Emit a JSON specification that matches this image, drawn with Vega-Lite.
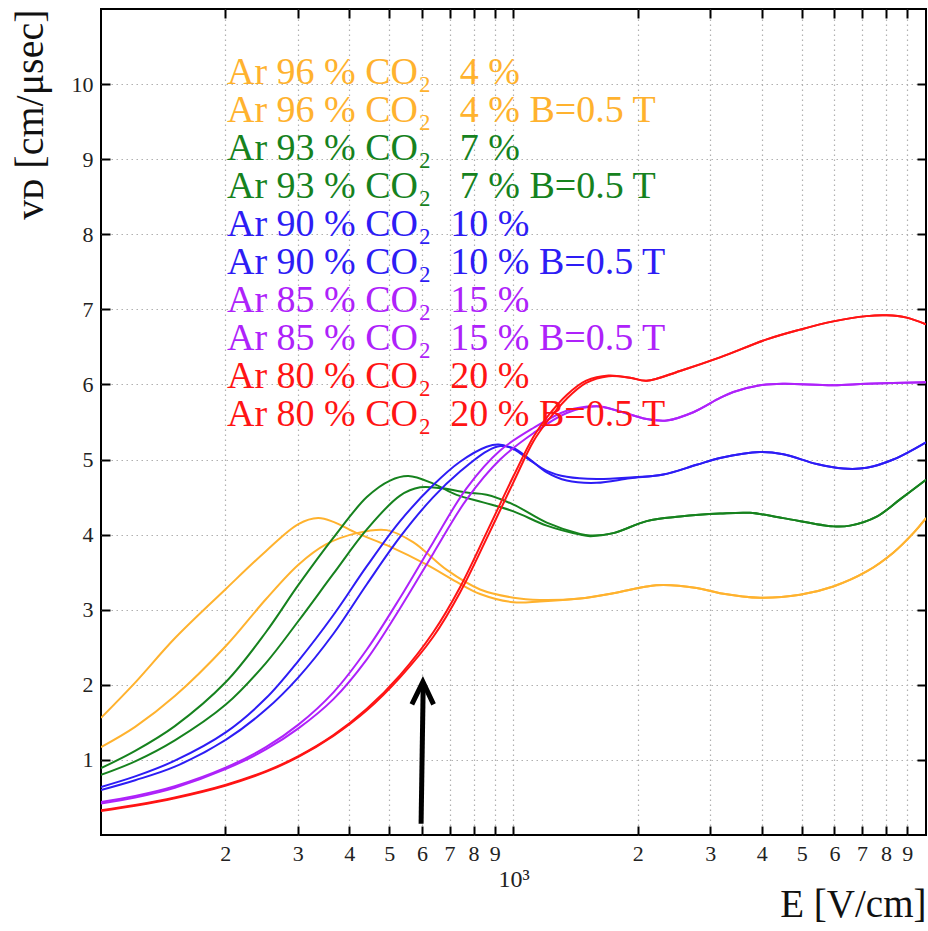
{
  "$schema": "https://vega.github.io/schema/vega-lite/v6.json",
  "width": 825,
  "height": 826,
  "autosize": {"type": "none"},
  "padding": {"left": 101, "top": 9, "right": 2, "bottom": 96},
  "background": "white",
  "datasets": {
    "arrow": [
      {"part": "shaft", "E": 597, "v": 0.15},
      {"part": "shaft", "E": 604, "v": 1.98},
      {"part": "head", "E": 567, "v": 1.74},
      {"part": "head", "E": 603, "v": 2.04},
      {"part": "head", "E": 640, "v": 1.74}
    ],
    "curves": [
      {"s": "Ar 96 % CO₂   4 %", "E": 100, "v": 1.56},
      {"s": "Ar 96 % CO₂   4 %", "E": 121, "v": 2.03},
      {"s": "Ar 96 % CO₂   4 %", "E": 151, "v": 2.62},
      {"s": "Ar 96 % CO₂   4 %", "E": 201, "v": 3.28},
      {"s": "Ar 96 % CO₂   4 %", "E": 251, "v": 3.78},
      {"s": "Ar 96 % CO₂   4 %", "E": 301, "v": 4.14},
      {"s": "Ar 96 % CO₂   4 %", "E": 336, "v": 4.22},
      {"s": "Ar 96 % CO₂   4 %", "E": 366, "v": 4.17},
      {"s": "Ar 96 % CO₂   4 %", "E": 417, "v": 4.02},
      {"s": "Ar 96 % CO₂   4 %", "E": 502, "v": 3.84},
      {"s": "Ar 96 % CO₂   4 %", "E": 616, "v": 3.6},
      {"s": "Ar 96 % CO₂   4 %", "E": 728, "v": 3.37},
      {"s": "Ar 96 % CO₂   4 %", "E": 830, "v": 3.21},
      {"s": "Ar 96 % CO₂   4 %", "E": 1000, "v": 3.1},
      {"s": "Ar 96 % CO₂   4 %", "E": 1159, "v": 3.11},
      {"s": "Ar 96 % CO₂   4 %", "E": 1450, "v": 3.15},
      {"s": "Ar 96 % CO₂   4 %", "E": 1746, "v": 3.22},
      {"s": "Ar 96 % CO₂   4 %", "E": 2103, "v": 3.31},
      {"s": "Ar 96 % CO₂   4 %", "E": 2308, "v": 3.33},
      {"s": "Ar 96 % CO₂   4 %", "E": 2780, "v": 3.29},
      {"s": "Ar 96 % CO₂   4 %", "E": 3167, "v": 3.22},
      {"s": "Ar 96 % CO₂   4 %", "E": 3959, "v": 3.16},
      {"s": "Ar 96 % CO₂   4 %", "E": 4950, "v": 3.2},
      {"s": "Ar 96 % CO₂   4 %", "E": 5960, "v": 3.31},
      {"s": "Ar 96 % CO₂   4 %", "E": 7180, "v": 3.51},
      {"s": "Ar 96 % CO₂   4 %", "E": 8330, "v": 3.76},
      {"s": "Ar 96 % CO₂   4 %", "E": 9316, "v": 4.02},
      {"s": "Ar 96 % CO₂   4 %", "E": 10000, "v": 4.22},

      {"s": "Ar 96 % CO₂   4 % B=0.5 T", "E": 100, "v": 1.17},
      {"s": "Ar 96 % CO₂   4 % B=0.5 T", "E": 121, "v": 1.44},
      {"s": "Ar 96 % CO₂   4 % B=0.5 T", "E": 151, "v": 1.85},
      {"s": "Ar 96 % CO₂   4 % B=0.5 T", "E": 201, "v": 2.52},
      {"s": "Ar 96 % CO₂   4 % B=0.5 T", "E": 251, "v": 3.14},
      {"s": "Ar 96 % CO₂   4 % B=0.5 T", "E": 301, "v": 3.6},
      {"s": "Ar 96 % CO₂   4 % B=0.5 T", "E": 351, "v": 3.87},
      {"s": "Ar 96 % CO₂   4 % B=0.5 T", "E": 417, "v": 4.02},
      {"s": "Ar 96 % CO₂   4 % B=0.5 T", "E": 493, "v": 4.06},
      {"s": "Ar 96 % CO₂   4 % B=0.5 T", "E": 571, "v": 3.9},
      {"s": "Ar 96 % CO₂   4 % B=0.5 T", "E": 689, "v": 3.53},
      {"s": "Ar 96 % CO₂   4 % B=0.5 T", "E": 830, "v": 3.27},
      {"s": "Ar 96 % CO₂   4 % B=0.5 T", "E": 1000, "v": 3.16},
      {"s": "Ar 96 % CO₂   4 % B=0.5 T", "E": 1159, "v": 3.13},
      {"s": "Ar 96 % CO₂   4 % B=0.5 T", "E": 1450, "v": 3.15},
      {"s": "Ar 96 % CO₂   4 % B=0.5 T", "E": 1746, "v": 3.22},
      {"s": "Ar 96 % CO₂   4 % B=0.5 T", "E": 2103, "v": 3.31},
      {"s": "Ar 96 % CO₂   4 % B=0.5 T", "E": 2308, "v": 3.33},
      {"s": "Ar 96 % CO₂   4 % B=0.5 T", "E": 2780, "v": 3.29},
      {"s": "Ar 96 % CO₂   4 % B=0.5 T", "E": 3167, "v": 3.22},
      {"s": "Ar 96 % CO₂   4 % B=0.5 T", "E": 3959, "v": 3.16},
      {"s": "Ar 96 % CO₂   4 % B=0.5 T", "E": 4950, "v": 3.2},
      {"s": "Ar 96 % CO₂   4 % B=0.5 T", "E": 5960, "v": 3.31},
      {"s": "Ar 96 % CO₂   4 % B=0.5 T", "E": 7180, "v": 3.51},
      {"s": "Ar 96 % CO₂   4 % B=0.5 T", "E": 8330, "v": 3.76},
      {"s": "Ar 96 % CO₂   4 % B=0.5 T", "E": 9316, "v": 4.02},
      {"s": "Ar 96 % CO₂   4 % B=0.5 T", "E": 10000, "v": 4.22},

      {"s": "Ar 93 % CO₂   7 %", "E": 100, "v": 0.89},
      {"s": "Ar 93 % CO₂   7 %", "E": 121, "v": 1.12},
      {"s": "Ar 93 % CO₂   7 %", "E": 151, "v": 1.45},
      {"s": "Ar 93 % CO₂   7 %", "E": 201, "v": 2.04},
      {"s": "Ar 93 % CO₂   7 %", "E": 251, "v": 2.7},
      {"s": "Ar 93 % CO₂   7 %", "E": 301, "v": 3.33},
      {"s": "Ar 93 % CO₂   7 %", "E": 366, "v": 3.96},
      {"s": "Ar 93 % CO₂   7 %", "E": 441, "v": 4.5},
      {"s": "Ar 93 % CO₂   7 %", "E": 502, "v": 4.72},
      {"s": "Ar 93 % CO₂   7 %", "E": 556, "v": 4.78},
      {"s": "Ar 93 % CO₂   7 %", "E": 639, "v": 4.68},
      {"s": "Ar 93 % CO₂   7 %", "E": 728, "v": 4.53},
      {"s": "Ar 93 % CO₂   7 %", "E": 844, "v": 4.43},
      {"s": "Ar 93 % CO₂   7 %", "E": 1000, "v": 4.31},
      {"s": "Ar 93 % CO₂   7 %", "E": 1204, "v": 4.12},
      {"s": "Ar 93 % CO₂   7 %", "E": 1450, "v": 4.0},
      {"s": "Ar 93 % CO₂   7 %", "E": 1533, "v": 3.98},
      {"s": "Ar 93 % CO₂   7 %", "E": 1746, "v": 4.02},
      {"s": "Ar 93 % CO₂   7 %", "E": 2103, "v": 4.18},
      {"s": "Ar 93 % CO₂   7 %", "E": 2533, "v": 4.24},
      {"s": "Ar 93 % CO₂   7 %", "E": 3167, "v": 4.28},
      {"s": "Ar 93 % CO₂   7 %", "E": 3744, "v": 4.29},
      {"s": "Ar 93 % CO₂   7 %", "E": 4509, "v": 4.22},
      {"s": "Ar 93 % CO₂   7 %", "E": 5960, "v": 4.11},
      {"s": "Ar 93 % CO₂   7 %", "E": 6544, "v": 4.12},
      {"s": "Ar 93 % CO₂   7 %", "E": 7595, "v": 4.24},
      {"s": "Ar 93 % CO₂   7 %", "E": 8650, "v": 4.47},
      {"s": "Ar 93 % CO₂   7 %", "E": 10000, "v": 4.73},

      {"s": "Ar 93 % CO₂   7 % B=0.5 T", "E": 100, "v": 0.8},
      {"s": "Ar 93 % CO₂   7 % B=0.5 T", "E": 121, "v": 0.98},
      {"s": "Ar 93 % CO₂   7 % B=0.5 T", "E": 151, "v": 1.26},
      {"s": "Ar 93 % CO₂   7 % B=0.5 T", "E": 201, "v": 1.74},
      {"s": "Ar 93 % CO₂   7 % B=0.5 T", "E": 251, "v": 2.29},
      {"s": "Ar 93 % CO₂   7 % B=0.5 T", "E": 301, "v": 2.85},
      {"s": "Ar 93 % CO₂   7 % B=0.5 T", "E": 366, "v": 3.48},
      {"s": "Ar 93 % CO₂   7 % B=0.5 T", "E": 441, "v": 4.07},
      {"s": "Ar 93 % CO₂   7 % B=0.5 T", "E": 531, "v": 4.52},
      {"s": "Ar 93 % CO₂   7 % B=0.5 T", "E": 594, "v": 4.63},
      {"s": "Ar 93 % CO₂   7 % B=0.5 T", "E": 664, "v": 4.62},
      {"s": "Ar 93 % CO₂   7 % B=0.5 T", "E": 770, "v": 4.56},
      {"s": "Ar 93 % CO₂   7 % B=0.5 T", "E": 861, "v": 4.53},
      {"s": "Ar 93 % CO₂   7 % B=0.5 T", "E": 1000, "v": 4.4},
      {"s": "Ar 93 % CO₂   7 % B=0.5 T", "E": 1204, "v": 4.16},
      {"s": "Ar 93 % CO₂   7 % B=0.5 T", "E": 1450, "v": 4.01},
      {"s": "Ar 93 % CO₂   7 % B=0.5 T", "E": 1533, "v": 3.99},
      {"s": "Ar 93 % CO₂   7 % B=0.5 T", "E": 1746, "v": 4.02},
      {"s": "Ar 93 % CO₂   7 % B=0.5 T", "E": 2103, "v": 4.18},
      {"s": "Ar 93 % CO₂   7 % B=0.5 T", "E": 2533, "v": 4.24},
      {"s": "Ar 93 % CO₂   7 % B=0.5 T", "E": 3167, "v": 4.28},
      {"s": "Ar 93 % CO₂   7 % B=0.5 T", "E": 3744, "v": 4.29},
      {"s": "Ar 93 % CO₂   7 % B=0.5 T", "E": 4509, "v": 4.22},
      {"s": "Ar 93 % CO₂   7 % B=0.5 T", "E": 5960, "v": 4.11},
      {"s": "Ar 93 % CO₂   7 % B=0.5 T", "E": 6544, "v": 4.12},
      {"s": "Ar 93 % CO₂   7 % B=0.5 T", "E": 7595, "v": 4.24},
      {"s": "Ar 93 % CO₂   7 % B=0.5 T", "E": 8650, "v": 4.47},
      {"s": "Ar 93 % CO₂   7 % B=0.5 T", "E": 10000, "v": 4.73},

      {"s": "Ar 90 % CO₂  10 %", "E": 100, "v": 0.64},
      {"s": "Ar 90 % CO₂  10 %", "E": 121, "v": 0.78},
      {"s": "Ar 90 % CO₂  10 %", "E": 151, "v": 0.99},
      {"s": "Ar 90 % CO₂  10 %", "E": 201, "v": 1.37},
      {"s": "Ar 90 % CO₂  10 %", "E": 251, "v": 1.82},
      {"s": "Ar 90 % CO₂  10 %", "E": 301, "v": 2.32},
      {"s": "Ar 90 % CO₂  10 %", "E": 366, "v": 2.93},
      {"s": "Ar 90 % CO₂  10 %", "E": 441, "v": 3.58},
      {"s": "Ar 90 % CO₂  10 %", "E": 531, "v": 4.18},
      {"s": "Ar 90 % CO₂  10 %", "E": 639, "v": 4.66},
      {"s": "Ar 90 % CO₂  10 %", "E": 742, "v": 4.97},
      {"s": "Ar 90 % CO₂  10 %", "E": 861, "v": 5.17},
      {"s": "Ar 90 % CO₂  10 %", "E": 920, "v": 5.2},
      {"s": "Ar 90 % CO₂  10 %", "E": 1000, "v": 5.14},
      {"s": "Ar 90 % CO₂  10 %", "E": 1097, "v": 4.99},
      {"s": "Ar 90 % CO₂  10 %", "E": 1204, "v": 4.85},
      {"s": "Ar 90 % CO₂  10 %", "E": 1346, "v": 4.77},
      {"s": "Ar 90 % CO₂  10 %", "E": 1591, "v": 4.74},
      {"s": "Ar 90 % CO₂  10 %", "E": 1916, "v": 4.76},
      {"s": "Ar 90 % CO₂  10 %", "E": 2308, "v": 4.8},
      {"s": "Ar 90 % CO₂  10 %", "E": 2780, "v": 4.93},
      {"s": "Ar 90 % CO₂  10 %", "E": 3167, "v": 5.02},
      {"s": "Ar 90 % CO₂  10 %", "E": 3959, "v": 5.1},
      {"s": "Ar 90 % CO₂  10 %", "E": 4509, "v": 5.07},
      {"s": "Ar 90 % CO₂  10 %", "E": 5433, "v": 4.94},
      {"s": "Ar 90 % CO₂  10 %", "E": 6303, "v": 4.88},
      {"s": "Ar 90 % CO₂  10 %", "E": 7180, "v": 4.89},
      {"s": "Ar 90 % CO₂  10 %", "E": 8330, "v": 5.0},
      {"s": "Ar 90 % CO₂  10 %", "E": 10000, "v": 5.23},

      {"s": "Ar 90 % CO₂  10 % B=0.5 T", "E": 100, "v": 0.6},
      {"s": "Ar 90 % CO₂  10 % B=0.5 T", "E": 121, "v": 0.73},
      {"s": "Ar 90 % CO₂  10 % B=0.5 T", "E": 151, "v": 0.91},
      {"s": "Ar 90 % CO₂  10 % B=0.5 T", "E": 201, "v": 1.27},
      {"s": "Ar 90 % CO₂  10 % B=0.5 T", "E": 251, "v": 1.67},
      {"s": "Ar 90 % CO₂  10 % B=0.5 T", "E": 301, "v": 2.1},
      {"s": "Ar 90 % CO₂  10 % B=0.5 T", "E": 366, "v": 2.68},
      {"s": "Ar 90 % CO₂  10 % B=0.5 T", "E": 441, "v": 3.34},
      {"s": "Ar 90 % CO₂  10 % B=0.5 T", "E": 531, "v": 3.97},
      {"s": "Ar 90 % CO₂  10 % B=0.5 T", "E": 639, "v": 4.5},
      {"s": "Ar 90 % CO₂  10 % B=0.5 T", "E": 742, "v": 4.84},
      {"s": "Ar 90 % CO₂  10 % B=0.5 T", "E": 861, "v": 5.11},
      {"s": "Ar 90 % CO₂  10 % B=0.5 T", "E": 930, "v": 5.18},
      {"s": "Ar 90 % CO₂  10 % B=0.5 T", "E": 1000, "v": 5.15},
      {"s": "Ar 90 % CO₂  10 % B=0.5 T", "E": 1097, "v": 5.0},
      {"s": "Ar 90 % CO₂  10 % B=0.5 T", "E": 1204, "v": 4.83},
      {"s": "Ar 90 % CO₂  10 % B=0.5 T", "E": 1346, "v": 4.72},
      {"s": "Ar 90 % CO₂  10 % B=0.5 T", "E": 1591, "v": 4.69},
      {"s": "Ar 90 % CO₂  10 % B=0.5 T", "E": 1916, "v": 4.75},
      {"s": "Ar 90 % CO₂  10 % B=0.5 T", "E": 2308, "v": 4.8},
      {"s": "Ar 90 % CO₂  10 % B=0.5 T", "E": 2780, "v": 4.93},
      {"s": "Ar 90 % CO₂  10 % B=0.5 T", "E": 3167, "v": 5.02},
      {"s": "Ar 90 % CO₂  10 % B=0.5 T", "E": 3959, "v": 5.1},
      {"s": "Ar 90 % CO₂  10 % B=0.5 T", "E": 4509, "v": 5.07},
      {"s": "Ar 90 % CO₂  10 % B=0.5 T", "E": 5433, "v": 4.94},
      {"s": "Ar 90 % CO₂  10 % B=0.5 T", "E": 6303, "v": 4.88},
      {"s": "Ar 90 % CO₂  10 % B=0.5 T", "E": 7180, "v": 4.89},
      {"s": "Ar 90 % CO₂  10 % B=0.5 T", "E": 8330, "v": 5.0},
      {"s": "Ar 90 % CO₂  10 % B=0.5 T", "E": 10000, "v": 5.23},

      {"s": "Ar 85 % CO₂  15 %", "E": 100, "v": 0.44},
      {"s": "Ar 85 % CO₂  15 %", "E": 121, "v": 0.52},
      {"s": "Ar 85 % CO₂  15 %", "E": 151, "v": 0.65},
      {"s": "Ar 85 % CO₂  15 %", "E": 201, "v": 0.9},
      {"s": "Ar 85 % CO₂  15 %", "E": 251, "v": 1.17},
      {"s": "Ar 85 % CO₂  15 %", "E": 301, "v": 1.47},
      {"s": "Ar 85 % CO₂  15 %", "E": 366, "v": 1.9},
      {"s": "Ar 85 % CO₂  15 %", "E": 441, "v": 2.47},
      {"s": "Ar 85 % CO₂  15 %", "E": 531, "v": 3.16},
      {"s": "Ar 85 % CO₂  15 %", "E": 639, "v": 3.9},
      {"s": "Ar 85 % CO₂  15 %", "E": 770, "v": 4.62},
      {"s": "Ar 85 % CO₂  15 %", "E": 928, "v": 5.12},
      {"s": "Ar 85 % CO₂  15 %", "E": 1117, "v": 5.42},
      {"s": "Ar 85 % CO₂  15 %", "E": 1346, "v": 5.65},
      {"s": "Ar 85 % CO₂  15 %", "E": 1591, "v": 5.71},
      {"s": "Ar 85 % CO₂  15 %", "E": 1813, "v": 5.64},
      {"s": "Ar 85 % CO₂  15 %", "E": 2103, "v": 5.54},
      {"s": "Ar 85 % CO₂  15 %", "E": 2352, "v": 5.52},
      {"s": "Ar 85 % CO₂  15 %", "E": 2729, "v": 5.63},
      {"s": "Ar 85 % CO₂  15 %", "E": 3167, "v": 5.82},
      {"s": "Ar 85 % CO₂  15 %", "E": 3412, "v": 5.9},
      {"s": "Ar 85 % CO₂  15 %", "E": 3959, "v": 5.99},
      {"s": "Ar 85 % CO₂  15 %", "E": 4509, "v": 6.01},
      {"s": "Ar 85 % CO₂  15 %", "E": 5960, "v": 5.99},
      {"s": "Ar 85 % CO₂  15 %", "E": 7180, "v": 6.01},
      {"s": "Ar 85 % CO₂  15 %", "E": 10000, "v": 6.03},

      {"s": "Ar 85 % CO₂  15 % B=0.5 T", "E": 100, "v": 0.42},
      {"s": "Ar 85 % CO₂  15 % B=0.5 T", "E": 121, "v": 0.5},
      {"s": "Ar 85 % CO₂  15 % B=0.5 T", "E": 151, "v": 0.63},
      {"s": "Ar 85 % CO₂  15 % B=0.5 T", "E": 201, "v": 0.88},
      {"s": "Ar 85 % CO₂  15 % B=0.5 T", "E": 251, "v": 1.14},
      {"s": "Ar 85 % CO₂  15 % B=0.5 T", "E": 301, "v": 1.42},
      {"s": "Ar 85 % CO₂  15 % B=0.5 T", "E": 366, "v": 1.81},
      {"s": "Ar 85 % CO₂  15 % B=0.5 T", "E": 441, "v": 2.34},
      {"s": "Ar 85 % CO₂  15 % B=0.5 T", "E": 531, "v": 3.02},
      {"s": "Ar 85 % CO₂  15 % B=0.5 T", "E": 639, "v": 3.75},
      {"s": "Ar 85 % CO₂  15 % B=0.5 T", "E": 770, "v": 4.47},
      {"s": "Ar 85 % CO₂  15 % B=0.5 T", "E": 928, "v": 5.0},
      {"s": "Ar 85 % CO₂  15 % B=0.5 T", "E": 1117, "v": 5.35},
      {"s": "Ar 85 % CO₂  15 % B=0.5 T", "E": 1346, "v": 5.62},
      {"s": "Ar 85 % CO₂  15 % B=0.5 T", "E": 1591, "v": 5.71},
      {"s": "Ar 85 % CO₂  15 % B=0.5 T", "E": 1813, "v": 5.64},
      {"s": "Ar 85 % CO₂  15 % B=0.5 T", "E": 2103, "v": 5.54},
      {"s": "Ar 85 % CO₂  15 % B=0.5 T", "E": 2352, "v": 5.52},
      {"s": "Ar 85 % CO₂  15 % B=0.5 T", "E": 2729, "v": 5.63},
      {"s": "Ar 85 % CO₂  15 % B=0.5 T", "E": 3167, "v": 5.82},
      {"s": "Ar 85 % CO₂  15 % B=0.5 T", "E": 3412, "v": 5.9},
      {"s": "Ar 85 % CO₂  15 % B=0.5 T", "E": 3959, "v": 5.99},
      {"s": "Ar 85 % CO₂  15 % B=0.5 T", "E": 4509, "v": 6.01},
      {"s": "Ar 85 % CO₂  15 % B=0.5 T", "E": 5960, "v": 5.99},
      {"s": "Ar 85 % CO₂  15 % B=0.5 T", "E": 7180, "v": 6.01},
      {"s": "Ar 85 % CO₂  15 % B=0.5 T", "E": 10000, "v": 6.03},

      {"s": "Ar 80 % CO₂  20 %", "E": 100, "v": 0.33},
      {"s": "Ar 80 % CO₂  20 %", "E": 121, "v": 0.4},
      {"s": "Ar 80 % CO₂  20 %", "E": 151, "v": 0.5},
      {"s": "Ar 80 % CO₂  20 %", "E": 201, "v": 0.67},
      {"s": "Ar 80 % CO₂  20 %", "E": 251, "v": 0.85},
      {"s": "Ar 80 % CO₂  20 %", "E": 301, "v": 1.05},
      {"s": "Ar 80 % CO₂  20 %", "E": 366, "v": 1.33},
      {"s": "Ar 80 % CO₂  20 %", "E": 441, "v": 1.68},
      {"s": "Ar 80 % CO₂  20 %", "E": 531, "v": 2.13},
      {"s": "Ar 80 % CO₂  20 %", "E": 639, "v": 2.7},
      {"s": "Ar 80 % CO₂  20 %", "E": 742, "v": 3.3},
      {"s": "Ar 80 % CO₂  20 %", "E": 861, "v": 4.03},
      {"s": "Ar 80 % CO₂  20 %", "E": 1000, "v": 4.78},
      {"s": "Ar 80 % CO₂  20 %", "E": 1117, "v": 5.3},
      {"s": "Ar 80 % CO₂  20 %", "E": 1204, "v": 5.56},
      {"s": "Ar 80 % CO₂  20 %", "E": 1346, "v": 5.86},
      {"s": "Ar 80 % CO₂  20 %", "E": 1500, "v": 6.05},
      {"s": "Ar 80 % CO₂  20 %", "E": 1700, "v": 6.12},
      {"s": "Ar 80 % CO₂  20 %", "E": 1916, "v": 6.09},
      {"s": "Ar 80 % CO₂  20 %", "E": 2103, "v": 6.05},
      {"s": "Ar 80 % CO₂  20 %", "E": 2533, "v": 6.18},
      {"s": "Ar 80 % CO₂  20 %", "E": 3167, "v": 6.36},
      {"s": "Ar 80 % CO₂  20 %", "E": 4110, "v": 6.6},
      {"s": "Ar 80 % CO₂  20 %", "E": 4950, "v": 6.73},
      {"s": "Ar 80 % CO₂  20 %", "E": 5960, "v": 6.84},
      {"s": "Ar 80 % CO₂  20 %", "E": 7180, "v": 6.91},
      {"s": "Ar 80 % CO₂  20 %", "E": 8030, "v": 6.92},
      {"s": "Ar 80 % CO₂  20 %", "E": 8980, "v": 6.89},
      {"s": "Ar 80 % CO₂  20 %", "E": 10000, "v": 6.8},

      {"s": "Ar 80 % CO₂  20 % B=0.5 T", "E": 100, "v": 0.32},
      {"s": "Ar 80 % CO₂  20 % B=0.5 T", "E": 121, "v": 0.39},
      {"s": "Ar 80 % CO₂  20 % B=0.5 T", "E": 151, "v": 0.49},
      {"s": "Ar 80 % CO₂  20 % B=0.5 T", "E": 201, "v": 0.66},
      {"s": "Ar 80 % CO₂  20 % B=0.5 T", "E": 251, "v": 0.84},
      {"s": "Ar 80 % CO₂  20 % B=0.5 T", "E": 301, "v": 1.04},
      {"s": "Ar 80 % CO₂  20 % B=0.5 T", "E": 366, "v": 1.32},
      {"s": "Ar 80 % CO₂  20 % B=0.5 T", "E": 441, "v": 1.66},
      {"s": "Ar 80 % CO₂  20 % B=0.5 T", "E": 531, "v": 2.1},
      {"s": "Ar 80 % CO₂  20 % B=0.5 T", "E": 639, "v": 2.64},
      {"s": "Ar 80 % CO₂  20 % B=0.5 T", "E": 742, "v": 3.23},
      {"s": "Ar 80 % CO₂  20 % B=0.5 T", "E": 861, "v": 3.95},
      {"s": "Ar 80 % CO₂  20 % B=0.5 T", "E": 1000, "v": 4.7},
      {"s": "Ar 80 % CO₂  20 % B=0.5 T", "E": 1117, "v": 5.24},
      {"s": "Ar 80 % CO₂  20 % B=0.5 T", "E": 1204, "v": 5.5},
      {"s": "Ar 80 % CO₂  20 % B=0.5 T", "E": 1346, "v": 5.81},
      {"s": "Ar 80 % CO₂  20 % B=0.5 T", "E": 1500, "v": 6.02},
      {"s": "Ar 80 % CO₂  20 % B=0.5 T", "E": 1700, "v": 6.11},
      {"s": "Ar 80 % CO₂  20 % B=0.5 T", "E": 1916, "v": 6.09},
      {"s": "Ar 80 % CO₂  20 % B=0.5 T", "E": 2103, "v": 6.05},
      {"s": "Ar 80 % CO₂  20 % B=0.5 T", "E": 2533, "v": 6.18},
      {"s": "Ar 80 % CO₂  20 % B=0.5 T", "E": 3167, "v": 6.36},
      {"s": "Ar 80 % CO₂  20 % B=0.5 T", "E": 4110, "v": 6.6},
      {"s": "Ar 80 % CO₂  20 % B=0.5 T", "E": 4950, "v": 6.73},
      {"s": "Ar 80 % CO₂  20 % B=0.5 T", "E": 5960, "v": 6.84},
      {"s": "Ar 80 % CO₂  20 % B=0.5 T", "E": 7180, "v": 6.91},
      {"s": "Ar 80 % CO₂  20 % B=0.5 T", "E": 8030, "v": 6.92},
      {"s": "Ar 80 % CO₂  20 % B=0.5 T", "E": 8980, "v": 6.89},
      {"s": "Ar 80 % CO₂  20 % B=0.5 T", "E": 10000, "v": 6.8}
    ]
  },
  "layer": [
    {
      "data": {"name": "curves"},
      "mark": {"type": "line", "interpolate": "catmull-rom", "clip": true},
      "encoding": {
        "x": {
          "field": "E", "type": "quantitative",
          "scale": {"type": "log", "domain": [100, 10000], "nice": false},
          "axis": {
            "orient": "bottom",
            "values": [200, 300, 400, 500, 600, 700, 800, 900, 1000, 2000, 3000, 4000, 5000, 6000, 7000, 8000, 9000],
            "labelExpr": "datum.value == 1000 ? ['', '10³'] : substring(toString(datum.value), 0, 1)",
            "labelFontSize": {"condition": {"test": "datum.value == 1000", "value": 24}, "value": 22},
            "labelOverlap": false,
            "labelFlush": false,
            "labelLineHeight": 24,
            "grid": true,
            "title": "E [V/cm]",
            "titleFontSize": 39,
            "titleAnchor": "end",
            "titlePadding": -6
          }
        },
        "y": {
          "field": "v", "type": "quantitative",
          "scale": {"domain": [0, 11], "nice": false},
          "axis": {
            "orient": "left",
            "values": [1, 2, 3, 4, 5, 6, 7, 8, 9, 10],
            "labelOverlap": false,
            "grid": true,
            "title": "vᴅ [cm/μsec]",
            "titleFontSize": 40,
            "titleAnchor": "end",
            "titlePadding": 21
          }
        },
        "color": {
          "field": "s", "type": "nominal",
          "scale": {
            "domain": ["Ar 96 % CO₂   4 %", "Ar 96 % CO₂   4 % B=0.5 T", "Ar 93 % CO₂   7 %", "Ar 93 % CO₂   7 % B=0.5 T", "Ar 90 % CO₂  10 %", "Ar 90 % CO₂  10 % B=0.5 T", "Ar 85 % CO₂  15 %", "Ar 85 % CO₂  15 % B=0.5 T", "Ar 80 % CO₂  20 %", "Ar 80 % CO₂  20 % B=0.5 T"],
            "range": ["#FFB22E", "#FFB22E", "#16821E", "#16821E", "#2D1CF5", "#2D1CF5", "#AE22FA", "#AE22FA", "#FF1414", "#FF1414"]
          },
          "legend": {
            "orient": "none",
            "legendX": 88,
            "legendY": 45,
            "title": null,
            "labelFont": "Liberation Serif",
            "labelFontSize": 38,
            "labelLimit": 2000,
            "labelExpr": "replace(datum.label, '₂  ', '₂\u00a0\u00a0')",
            "symbolSize": 0,
            "symbolOpacity": 0,
            "symbolStrokeWidth": 0,
            "labelOffset": 0,
            "rowPadding": -0.5,
            "padding": 0,
            "encode": {"labels": {"update": {"fill": {"scale": "color", "field": "value"}}}}
          }
        },
        "strokeWidth": {
          "field": "s", "type": "nominal",
          "scale": {
            "domain": ["Ar 96 % CO₂   4 %", "Ar 96 % CO₂   4 % B=0.5 T", "Ar 93 % CO₂   7 %", "Ar 93 % CO₂   7 % B=0.5 T", "Ar 90 % CO₂  10 %", "Ar 90 % CO₂  10 % B=0.5 T", "Ar 85 % CO₂  15 %", "Ar 85 % CO₂  15 % B=0.5 T", "Ar 80 % CO₂  20 %", "Ar 80 % CO₂  20 % B=0.5 T"],
            "range": [2, 2, 2.4, 2.4, 2.6, 2.6, 2.8, 2.8, 2.8, 2.8]
          },
          "legend": null
        }
      }
    },
    {
      "data": {"name": "arrow"},
      "mark": {"type": "line", "color": "#000", "strokeWidth": 5, "strokeCap": "butt", "strokeJoin": "miter"},
      "encoding": {
        "x": {
          "field": "E", "type": "quantitative",
          "scale": {"type": "log", "domain": [100, 10000], "nice": false},
          "axis": {
            "orient": "top",
            "values": [200, 300, 400, 500, 600, 700, 800, 900, 1000, 2000, 3000, 4000, 5000, 6000, 7000, 8000, 9000],
            "labels": false, "grid": false, "title": null
          }
        },
        "y": {
          "field": "v", "type": "quantitative",
          "scale": {"domain": [0, 11], "nice": false},
          "axis": {
            "orient": "right",
            "values": [1, 2, 3, 4, 5, 6, 7, 8, 9, 10],
            "labels": false, "grid": false, "title": null
          }
        },
        "detail": {"field": "part", "type": "nominal"}
      }
    }
  ],
  "resolve": {"axis": {"x": "independent", "y": "independent"}},
  "config": {
    "view": {"stroke": "#000", "strokeWidth": 2},
    "font": "Liberation Serif",
    "legend": {"labelFont": "Liberation Serif"},
    "axis": {
      "domain": false,
      "tickColor": "#000",
      "tickWidth": 2,
      "tickSize": -9,
      "labelFont": "Liberation Serif",
      "labelFontSize": 22,
      "labelColor": "#222",
      "labelPadding": 17,
      "gridColor": "#b0b0b0",
      "gridDash": [1.5, 3.5],
      "gridWidth": 1.2,
      "titleFont": "Liberation Serif",
      "titleFontSize": 36,
      "titleFontWeight": "normal",
      "titleColor": "#111"
    }
  }
}
